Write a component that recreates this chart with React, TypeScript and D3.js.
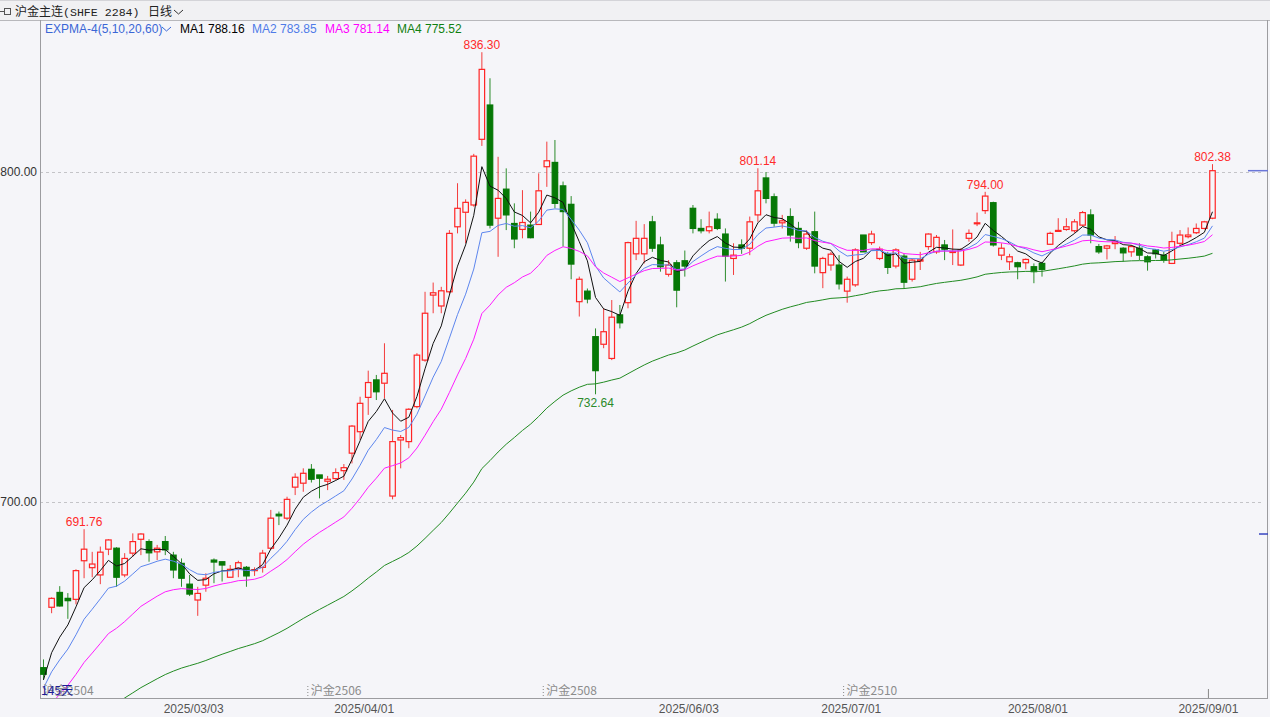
import React, { useEffect, useRef } from 'react';
import * as d3 from 'd3';

// daily candles, SHFE gold main contract (145 sessions, 2025-01-27 .. 2025-09-01)
const opens = [
  649.8, 668.1, 672.6, 670.8, 670.5, 682.2, 680.1, 677.9, 685.7, 686.0,
  677.9, 684.5, 688.7, 688.0, 684.9, 688.0, 683.9, 681.4, 675.1, 670.3,
  674.8, 682.4, 681.9, 677.2, 679.9, 680.2, 679.2, 680.2, 686.0, 696.3,
  695.1, 704.5, 705.7, 709.9, 708.2, 706.3, 707.1, 709.5, 714.8, 721.3,
  731.7, 737.0, 736.0, 701.8, 718.8, 718.3, 728.9, 743.0, 762.7, 759.4,
  763.7, 783.4, 787.8, 790.0, 809.9, 820.3, 786.0, 794.8, 784.4, 782.6,
  783.9, 784.1, 801.6, 802.9, 795.8, 790.2, 760.7, 763.9, 750.1, 747.8,
  743.5, 756.7, 760.4, 775.2, 775.2, 784.9, 777.9, 769.0, 772.5, 773.1,
  789.0, 782.9, 782.2, 785.7, 781.2, 773.8, 777.9, 776.9, 787.0, 798.2,
  792.5, 784.6, 786.5, 782.9, 776.9, 781.9, 769.5, 771.8, 771.8, 763.9,
  765.8, 780.9, 778.6, 773.8, 775.2, 771.5, 774.5, 767.5, 773.0, 777.4,
  775.8, 777.9, 775.6, 771.8, 779.9, 784.3, 788.3, 790.7, 774.8, 772.8,
  772.5, 772.5, 771.3, 772.3, 778.1, 782.0, 782.6, 782.2, 783.9, 787.0,
  777.4, 776.9, 778.3, 776.9, 775.8, 776.9, 774.3, 776.4, 774.8, 772.3,
  778.4, 780.4, 781.6, 782.9, 786.0,
];
const highs = [
  652.3, 671.1, 674.5, 672.4, 679.6, 691.76, 684.9, 686.5, 688.7, 686.3,
  684.5, 690.5, 690.5, 688.7, 687.0, 689.7, 684.9, 682.9, 677.9, 674.3,
  678.4, 682.9, 681.9, 680.9, 682.2, 680.6, 680.2, 685.5, 697.6, 697.1,
  701.6, 708.7, 710.2, 711.5, 708.2, 707.9, 710.2, 711.5, 723.3, 731.9,
  739.8, 738.5, 748.1, 727.9, 720.3, 728.4, 745.1, 763.7, 766.5, 765.2,
  782.4, 796.6, 791.7, 805.5, 836.3, 828.4, 804.6, 801.1, 790.5, 794.5,
  788.0, 799.6, 809.2, 809.7, 797.1, 792.7, 768.3, 764.7, 752.6, 758.7,
  761.2, 759.7, 778.9, 785.2, 784.2, 786.7, 780.4, 773.3, 773.3, 776.2,
  790.0, 785.7, 788.0, 787.5, 782.9, 778.4, 779.6, 786.5, 801.14, 800.0,
  793.5, 787.0, 789.0, 784.9, 782.4, 788.0, 774.3, 775.8, 774.8, 768.3,
  776.9, 780.9, 782.2, 777.4, 775.8, 776.9, 775.2, 773.8, 775.8, 781.4,
  780.9, 779.4, 782.6, 776.9, 782.6, 787.7, 794.0, 791.0, 778.4, 775.2,
  772.8, 773.8, 772.3, 772.8, 781.9, 786.0, 786.0, 785.7, 788.2, 788.7,
  778.2, 777.9, 780.6, 777.2, 777.9, 778.4, 774.8, 776.6, 775.8, 781.9,
  782.4, 783.2, 784.4, 785.2, 802.38,
];
const lows = [
  646.1, 666.3, 668.3, 664.6, 669.0, 676.9, 677.2, 675.1, 683.9, 674.3,
  677.2, 683.4, 683.9, 681.9, 682.4, 683.9, 676.9, 674.3, 671.5, 665.5,
  672.8, 675.4, 675.9, 677.2, 677.2, 674.3, 677.6, 678.6, 685.5, 693.0,
  694.5, 702.1, 703.1, 705.9, 701.1, 703.6, 706.7, 706.7, 711.7, 718.8,
  726.4, 730.9, 731.4, 700.8, 710.2, 716.3, 728.4, 742.5, 757.2, 757.2,
  763.2, 781.4, 778.4, 789.5, 807.9, 782.9, 774.3, 782.4, 776.9, 779.9,
  779.9, 784.1, 795.5, 789.0, 777.4, 767.5, 756.2, 760.2, 732.64, 746.6,
  743.0, 752.6, 758.7, 773.3, 772.3, 775.8, 769.8, 768.3, 759.0, 768.3,
  781.4, 781.4, 781.4, 782.4, 766.8, 768.8, 775.2, 774.8, 784.9, 790.5,
  783.4, 782.9, 778.9, 776.9, 776.4, 769.3, 764.8, 770.1, 764.4, 760.4,
  765.2, 775.8, 777.9, 773.3, 769.1, 770.8, 764.8, 766.8, 770.3, 776.4,
  775.2, 773.3, 771.8, 771.5, 778.9, 783.6, 787.3, 777.4, 773.3, 770.3,
  767.5, 770.5, 766.3, 768.3, 777.9, 781.9, 782.2, 781.6, 783.6, 778.4,
  775.2, 773.5, 776.6, 772.8, 774.3, 773.3, 770.1, 773.8, 772.5, 772.1,
  777.9, 779.9, 781.2, 782.6, 785.7,
];
const closes = [
  647.8, 670.8, 668.5, 670.1, 679.2, 685.7, 681.2, 684.8, 688.5, 677.2,
  682.9, 688.0, 690.3, 684.6, 686.0, 685.5, 679.4, 676.9, 672.1, 672.3,
  676.9, 681.8, 680.9, 679.6, 681.6, 677.6, 679.5, 684.5, 695.1, 695.8,
  700.8, 707.5, 708.7, 706.9, 707.2, 706.9, 708.9, 710.4, 723.0, 729.9,
  736.2, 733.4, 739.0, 718.3, 719.5, 728.1, 744.5, 757.2, 763.4, 764.0,
  781.4, 789.0, 790.8, 804.8, 831.1, 783.9, 792.0, 787.0, 779.7, 784.7,
  780.1, 794.3, 803.4, 790.5, 788.0, 772.1, 767.5, 761.5, 739.8, 751.6,
  756.0, 754.3, 778.6, 779.9, 779.9, 776.9, 771.3, 771.8, 764.2, 771.5,
  782.9, 782.2, 783.4, 782.9, 774.5, 774.8, 776.9, 784.9, 794.3, 792.0,
  784.5, 785.2, 780.9, 778.6, 781.2, 771.5, 773.8, 775.1, 766.1, 767.5,
  776.4, 775.8, 781.2, 776.6, 771.1, 776.4, 766.6, 773.3, 773.4, 781.2,
  780.2, 776.6, 775.9, 776.4, 781.4, 784.6, 792.7, 777.9, 776.9, 774.3,
  771.3, 773.5, 769.8, 770.5, 781.4, 782.3, 783.4, 784.9, 787.7, 780.9,
  775.8, 777.6, 778.8, 775.5, 777.4, 774.8, 772.8, 775.2, 773.3, 778.9,
  780.9, 780.9, 782.9, 784.9, 800.4,
];

// EXPMA(5,10,20,60): value of each line on the first visible session
const emaPeriods = [5, 10, 20, 60];
const emaStart = [646.1, 643.6, 635.6, 625.3];
const legendNames = ['MA1', 'MA2', 'MA3', 'MA4'];
const legendValues = ['788.16', '783.85', '781.14', '775.52'];

const yTicks = [700, 800];
const dateLabels = ['2025/03/03', '2025/04/01', '2025/06/03', '2025/07/01', '2025/08/01', '2025/09/01'];
const dateIndex = [19, 40, 80, 100, 123, 144];
const contractLabels = ['沪金2504', '沪金2506', '沪金2508', '沪金2510'];
const contractIndex = [0, 33, 62, 99];
const highMarks = [5, 54, 88, 116, 144];
const lowMarks = [68];
const sideMarks = [690.3];

const W = 1270;
const H = 717;
const BG = '#f5f5f9';
const UP = '#ff2424';
const DOWN = '#067806';
const lineColors = ['#111111', '#5d86ee', '#ff1cff', '#228b22'];
const legendColors = ['#000000', '#4f7be8', '#ff00ff', '#0f7f0f'];
const SANS = '"Liberation Sans", Arial, sans-serif';
const CJK = '"Noto Sans CJK SC", "Liberation Sans", sans-serif';

const ema = (vals: number[], n: number, start: number) => {
  const k = 2 / (n + 1);
  const out: number[] = [start];
  for (let i = 1; i < vals.length; i++) out.push(out[i - 1] + k * (vals[i] - out[i - 1]));
  return out;
};

const App: React.FC = () => {
  const svgRef = useRef<SVGSVGElement>(null);

  useEffect(() => {
    if (!svgRef.current) return;
    const left = 40, right = 1267, top = 20, bottom = 698;

    const svg = d3.select(svgRef.current);
    svg.selectAll('*').remove();
    svg.attr('width', W).attr('height', H).attr('viewBox', `0 0 ${W} ${H}`);

    svg.append('rect').attr('width', W).attr('height', H).attr('fill', BG);
    svg.append('rect').attr('width', W).attr('height', top).attr('fill', '#f1f1f3');
    svg.append('line').attr('x1', 0).attr('x2', W).attr('y1', 0.5).attr('y2', 0.5).attr('stroke', '#d4d4d8');
    svg.append('line').attr('x1', 0).attr('x2', W).attr('y1', top + 0.5).attr('y2', top + 0.5).attr('stroke', '#b8b8bc');

    // header
    const hdr = svg.append('g');
    hdr.append('line').attr('x1', 0).attr('x2', 4).attr('y1', 11.5).attr('y2', 11.5).attr('stroke', '#555');
    hdr.append('rect').attr('x', 4.5).attr('y', 8.5).attr('width', 6).attr('height', 6)
      .attr('fill', 'none').attr('stroke', '#555');
    hdr.append('text').attr('x', 15).attr('y', 15.5).attr('font-family', CJK).attr('font-size', 12)
      .attr('fill', '#222').text('沪金主连');
    hdr.append('text').attr('x', 63).attr('y', 15.5).attr('font-family', '"Liberation Mono", monospace')
      .attr('font-size', 11.6).attr('fill', '#222').text('(SHFE 2284)');
    hdr.append('text').attr('x', 148).attr('y', 15.5).attr('font-family', CJK).attr('font-size', 12)
      .attr('fill', '#222').text('日线');
    hdr.append('polyline').attr('points', '174,10 178.5,14 183,10').attr('fill', 'none').attr('stroke', '#333');

    const x = d3.scaleBand<number>()
      .domain(d3.range(closes.length))
      .range([39.44, 39.44 + 8.118 * closes.length])
      .paddingInner(0.2)
      .paddingOuter(0.1);
    const bw = x.bandwidth();
    const cx = (i: number) => (x(i) as number) + bw / 2;
    const edge = (i: number) => (x(i) as number) - x.step() * 0.1;

    const y = d3.scaleLinear().domain([700, 800]).range([502, 172]);

    svg.append('defs').append('clipPath').attr('id', 'plotClip')
      .append('rect').attr('x', left).attr('y', top).attr('width', right - left).attr('height', bottom - top);

    // grid
    svg.append('g').selectAll('line').data(yTicks).enter().append('line')
      .attr('x1', left).attr('x2', 1262).attr('y1', d => Math.round(y(d)) + 0.5).attr('y2', d => Math.round(y(d)) + 0.5)
      .attr('stroke', '#c4c4c8').attr('stroke-dasharray', '3,3');

    svg.append('g').selectAll('text').data(yTicks).enter().append('text')
      .attr('x', 37).attr('y', d => y(d) + 4).attr('text-anchor', 'end')
      .attr('font-family', SANS).attr('font-size', 12).attr('fill', '#333')
      .text(d => d.toFixed(2));

    // frame
    const frame = svg.append('g').attr('stroke', '#9c9ca0');
    frame.append('line').attr('x1', left + 0.5).attr('x2', left + 0.5).attr('y1', top).attr('y2', bottom);
    frame.append('line').attr('x1', left).attr('x2', right + 1).attr('y1', bottom + 0.5).attr('y2', bottom + 0.5);
    frame.append('line').attr('x1', right + 0.5).attr('x2', right + 0.5).attr('y1', top).attr('y2', bottom);

    const plot = svg.append('g').attr('clip-path', 'url(#plotClip)');

    // candles
    const idx = d3.range(closes.length);
    const candles = plot.append('g').selectAll('g').data(idx).enter().append('g');
    candles.append('line')
      .attr('x1', i => cx(i)).attr('x2', i => cx(i))
      .attr('y1', i => y(highs[i])).attr('y2', i => y(lows[i]))
      .attr('stroke', i => (closes[i] >= opens[i] ? '#f33c3c' : '#2c8c2c'))
      .attr('stroke-width', 1);
    candles.append('rect')
      .attr('x', i => (x(i) as number) + 0.5)
      .attr('width', bw - 1)
      .attr('y', i => y(Math.max(opens[i], closes[i])))
      .attr('height', i => Math.max(0.8, Math.abs(y(opens[i]) - y(closes[i]))))
      .attr('fill', i => (closes[i] >= opens[i] ? BG : DOWN))
      .attr('stroke', i => (closes[i] >= opens[i] ? UP : DOWN))
      .attr('stroke-width', 1.2);

    // EXPMA lines
    const line = d3.line<number>().x((_, i) => cx(i)).y(d => y(d));
    emaPeriods.forEach((n, k) => {
      plot.append('path')
        .datum(ema(closes, n, emaStart[k]))
        .attr('d', line)
        .attr('fill', 'none')
        .attr('stroke', lineColors[k])
        .attr('stroke-width', 1);
    });

    // extreme labels
    svg.append('g').selectAll('text').data(highMarks).enter().append('text')
      .attr('x', i => cx(i)).attr('y', i => y(highs[i]) - 3).attr('text-anchor', 'middle')
      .attr('font-family', SANS).attr('font-size', 12).attr('fill', '#ff2a2a')
      .text(i => highs[i].toFixed(2));
    svg.append('g').selectAll('text').data(lowMarks).enter().append('text')
      .attr('x', i => cx(i)).attr('y', i => y(lows[i]) + 13).attr('text-anchor', 'middle')
      .attr('font-family', SANS).attr('font-size', 12).attr('fill', '#2a8a2a')
      .text(i => lows[i].toFixed(2));

    // right side markers
    svg.append('line').attr('x1', 1248).attr('x2', 1268)
      .attr('y1', y(closes[closes.length - 1])).attr('y2', y(closes[closes.length - 1]))
      .attr('stroke', '#6a76d8').attr('stroke-width', 1.5);
    svg.append('g').selectAll('line').data(sideMarks).enter().append('line')
      .attr('x1', 1259).attr('x2', 1268).attr('y1', d => y(d)).attr('y2', d => y(d))
      .attr('stroke', '#3644c0').attr('stroke-width', 1.5);

    // legend
    const lg = svg.append('g').attr('font-family', SANS).attr('font-size', 12);
    lg.append('text').attr('x', 45).attr('y', 33).attr('fill', '#3a66d6').text('EXPMA-4(5,10,20,60)');
    lg.append('polyline').attr('points', '162,27 166.5,31 171,27').attr('fill', 'none').attr('stroke', '#3a66d6');
    const legendX = [180, 252, 325, 397];
    legendNames.forEach((nm, k) => {
      lg.append('text').attr('x', legendX[k]).attr('y', 33).attr('fill', legendColors[k])
        .text(`${nm} ${legendValues[k]}`);
    });

    // date axis
    svg.append('g').selectAll('text').data(dateLabels).enter().append('text')
      .attr('x', (_, k) => edge(dateIndex[k])).attr('y', 713).attr('text-anchor', 'middle')
      .attr('font-family', SANS).attr('font-size', 12).attr('fill', '#555')
      .text(d => d);
    const lastEdge = edge(dateIndex[dateIndex.length - 1]);
    svg.append('line').attr('x1', lastEdge).attr('x2', lastEdge).attr('y1', 689).attr('y2', 698)
      .attr('stroke', '#888');

    // contract switches
    const ct = svg.append('g');
    contractLabels.forEach((lab, k) => {
      const ex = edge(contractIndex[k]);
      if (k > 0) {
        ct.append('line').attr('x1', ex + 0.5).attr('x2', ex + 0.5).attr('y1', 686).attr('y2', 697)
          .attr('stroke', '#888').attr('stroke-dasharray', '1,2');
      }
      ct.append('text').attr('x', ex + 3.5).attr('y', 694.5)
        .attr('font-family', CJK).attr('font-size', 12).attr('fill', '#8c8c8c').text(lab);
    });
    // the day-count badge sits over the first contract label, as in the terminal view
    svg.append('text').attr('x', 41).attr('y', 695).attr('font-family', CJK).attr('font-size', 12)
      .attr('fill', '#1c1c96').text('145天');
  }, []);

  return (
    <div style={{ position: 'absolute', left: 0, top: 0 }}>
      <svg ref={svgRef} style={{ display: 'block' }} />
    </div>
  );
};

export default App;
